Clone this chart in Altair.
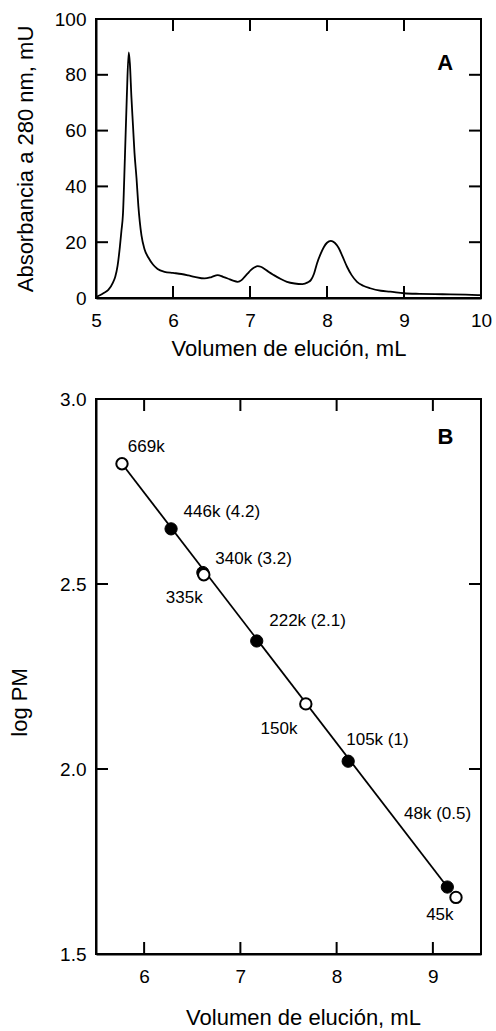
import altair as alt
import pandas as pd

# ---------------- Panel A: chromatogram ----------------
elution_ml = [5.00, 5.05, 5.10, 5.16, 5.22, 5.25, 5.28, 5.31, 5.33, 5.35, 5.375, 5.40,
              5.425, 5.44, 5.46, 5.48, 5.50, 5.526, 5.55, 5.59, 5.63, 5.68, 5.74, 5.80,
              5.89, 6.00, 6.11, 6.20, 6.28, 6.41, 6.50, 6.58, 6.65, 6.71, 6.78, 6.84,
              6.89, 6.93, 6.97, 7.01, 7.06, 7.10, 7.14, 7.18, 7.24, 7.31, 7.40, 7.48,
              7.58, 7.68, 7.75, 7.79, 7.83, 7.87, 7.92, 7.96, 8.00, 8.05, 8.10, 8.15,
              8.20, 8.26, 8.32, 8.39, 8.47, 8.56, 8.70, 8.82, 9.00, 9.20, 9.40, 9.60,
              9.80, 10.0]
absorbance_mu = [0.3, 1.0, 1.8, 2.9, 5.5, 7.6, 11.5, 18.3, 24, 30, 50, 72,
                 88, 84, 72, 62, 52, 43, 33, 22.5, 17.5, 14.5, 12, 10.4,
                 9.4, 9.0, 8.6, 8.1, 7.6, 7.0, 7.5, 8.2, 7.6, 7.0, 6.2, 5.8,
                 6.4, 7.6, 8.8, 10.0, 11.0, 11.4, 11.2, 10.6, 9.4, 8.2, 6.8, 5.8,
                 5.2, 5.0, 5.6, 6.4, 8.6, 12.4, 16, 18.3, 19.8, 20.5, 19.8, 18.0,
                 15, 11.2, 8.2, 5.8, 4.4, 3.5, 2.6, 2.3, 1.7, 1.5, 1.4, 1.3,
                 1.2, 1.0]
a_xdom = [5, 10]
a_ydom = [0, 100]
a_xticks = [5, 6, 7, 8, 9, 10]
a_yticks = [0, 20, 40, 60, 80, 100]
a_inner_x = [6, 7, 8, 9]
a_inner_y = [20, 40, 60, 80]
a_letter = ["A"]
a_letter_x = [9.535]
a_letter_y = [84.2]

# ---------------- Panel B: calibration ----------------
filled_labels = ["446k (4.2)", "340k (3.2)", "222k (2.1)", "105k (1)", "48k (0.5)"]
filled_ml = [6.28, 6.61, 7.17, 8.12, 9.15]
filled_logpm = [2.649, 2.531, 2.346, 2.021, 1.681]
open_labels = ["669k", "335k", "150k", "45k"]
open_ml = [5.77, 6.62, 7.68, 9.24]
open_logpm = [2.825, 2.525, 2.176, 1.653]
fit_ml = [5.77, 9.15]
fit_logpm = [2.825, 1.681]
label_text = ["669k", "446k (4.2)", "340k (3.2)", "335k", "222k (2.1)",
              "150k", "105k (1)", "48k (0.5)", "45k"]
label_x = [5.83, 6.41, 6.74, 6.225, 7.30, 7.21, 8.10, 8.70, 8.93]
label_y = [2.870, 2.695, 2.568, 2.462, 2.400, 2.108, 2.078, 1.878, 1.605]
b_xdom = [5.5, 9.5]
b_ydom = [1.5, 3.0]
b_xticks = [6, 7, 8, 9]
b_yticks = [1.5, 2.0, 2.5, 3.0]
b_inner_x = [6, 7, 8, 9]
b_inner_y = [2.0, 2.5]
b_letter = ["B"]
b_letter_x = [9.13]
b_letter_y = [2.897]

FONT = "Liberation Sans"
TICK = 11      # inward tick length, px
LBL = 19
TTL = 22
FRAME = 2


def frame_and_ticks(xdom, ydom, W, H, inner_x, inner_y, xs, ys):
    """Closed frame plus inward ticks on all four sides, drawn as line segments."""
    lx = TICK * (xdom[1] - xdom[0]) / W
    ly = TICK * (ydom[1] - ydom[0]) / H
    rows = []
    # frame polyline
    corners = [(xdom[0], ydom[0]), (xdom[1], ydom[0]), (xdom[1], ydom[1]),
               (xdom[0], ydom[1]), (xdom[0], ydom[0])]
    for k, (cx, cy) in enumerate(corners):
        rows.append({"seg": "frame", "o": k, "x": cx, "y": cy})
    # x ticks (top and bottom)
    for v in inner_x:
        rows += [{"seg": f"t{v}", "o": 0, "x": v, "y": ydom[1]},
                 {"seg": f"t{v}", "o": 1, "x": v, "y": ydom[1] - ly},
                 {"seg": f"b{v}", "o": 0, "x": v, "y": ydom[0]},
                 {"seg": f"b{v}", "o": 1, "x": v, "y": ydom[0] + ly}]
    # y ticks (left and right)
    for v in inner_y:
        rows += [{"seg": f"l{v}", "o": 0, "x": xdom[0], "y": v},
                 {"seg": f"l{v}", "o": 1, "x": xdom[0] + lx, "y": v},
                 {"seg": f"r{v}", "o": 0, "x": xdom[1], "y": v},
                 {"seg": f"r{v}", "o": 1, "x": xdom[1] - lx, "y": v}]
    df = pd.DataFrame(rows)
    return alt.Chart(df).mark_line(color="black", strokeWidth=FRAME, strokeJoin="miter",
                                   strokeCap="square").encode(
        x=alt.X("x:Q", scale=xs, axis=None),
        y=alt.Y("y:Q", scale=ys, axis=None),
        detail="seg:N",
        order="o:Q")


# ---------- Panel A ----------
WA, HA = 385, 279
xA = alt.Scale(domain=a_xdom, nice=False, zero=False)
yA = alt.Scale(domain=a_ydom, nice=False)

dfA = pd.DataFrame({"v": elution_ml, "a": absorbance_mu})
curve = alt.Chart(dfA).mark_line(color="black", strokeWidth=1.8, interpolate="monotone").encode(
    x=alt.X("v:Q", scale=xA, axis=alt.Axis(orient="bottom", values=a_xticks, format="d",
                                          title="Volumen de elución, mL",
                                          domain=True, domainColor="black", domainWidth=FRAME,
                                          ticks=False, labelPadding=13, titlePadding=8,
                                          labelFlush=False)),
    y=alt.Y("a:Q", scale=yA, axis=alt.Axis(orient="left", values=a_yticks, format="d",
                                          title="Absorbancia a 280 nm, mU",
                                          domain=True, domainColor="black", domainWidth=FRAME,
                                          ticks=False, labelPadding=10, labelFlush=False,
                                          titleX=-71, titleBaseline="middle")),
)
letterA = alt.Chart(pd.DataFrame({"t": a_letter, "v": a_letter_x, "a": a_letter_y})).mark_text(
    font=FONT, fontSize=22, fontWeight="bold", color="black", baseline="middle", align="center"
).encode(x=alt.X("v:Q", scale=xA, axis=None), y=alt.Y("a:Q", scale=yA, axis=None), text="t:N")

panelA = alt.layer(curve, frame_and_ticks(a_xdom, a_ydom, WA, HA, a_inner_x, a_inner_y, xA, yA),
                   letterA).resolve_axis(x="independent", y="independent").properties(
    width=WA, height=HA)

# ---------- Panel B ----------
WB, HB = 385, 555
xB = alt.Scale(domain=b_xdom, nice=False, zero=False)
yB = alt.Scale(domain=b_ydom, nice=False, zero=False)

dfFit = pd.DataFrame({"v": fit_ml, "m": fit_logpm})
fit = alt.Chart(dfFit).mark_line(color="black", strokeWidth=1.8).encode(
    x=alt.X("v:Q", scale=xB, axis=alt.Axis(orient="bottom", values=b_xticks, format="d",
                                          title="Volumen de elución, mL",
                                          domain=True, domainColor="black", domainWidth=FRAME,
                                          ticks=False, labelPadding=13, titlePadding=21,
                                          labelFlush=False, titleX=207)),
    y=alt.Y("m:Q", scale=yB, axis=alt.Axis(orient="left", values=b_yticks, format=".1f",
                                          title="log PM",
                                          domain=True, domainColor="black", domainWidth=FRAME,
                                          ticks=False, labelPadding=10, labelFlush=False,
                                          titleX=-77, titleY=303, titleBaseline="middle")),
)
filled_pts = alt.Chart(pd.DataFrame({"v": filled_ml, "m": filled_logpm, "t": filled_labels})).mark_point(
    shape="circle", filled=True, fill="black", stroke="black", strokeWidth=1, size=150, opacity=1
).encode(x=alt.X("v:Q", scale=xB, axis=None), y=alt.Y("m:Q", scale=yB, axis=None))
open_pts = alt.Chart(pd.DataFrame({"v": open_ml, "m": open_logpm, "t": open_labels})).mark_point(
    shape="circle", filled=True, fill="white", stroke="black", strokeWidth=2, size=130, opacity=1
).encode(x=alt.X("v:Q", scale=xB, axis=None), y=alt.Y("m:Q", scale=yB, axis=None))
labels = alt.Chart(pd.DataFrame({"v": label_x, "m": label_y, "t": label_text})).mark_text(
    font=FONT, fontSize=17, color="black", align="left", baseline="middle"
).encode(x=alt.X("v:Q", scale=xB, axis=None), y=alt.Y("m:Q", scale=yB, axis=None), text="t:N")
letterB = alt.Chart(pd.DataFrame({"t": b_letter, "v": b_letter_x, "m": b_letter_y})).mark_text(
    font=FONT, fontSize=22, fontWeight="bold", color="black", baseline="middle", align="center"
).encode(x=alt.X("v:Q", scale=xB, axis=None), y=alt.Y("m:Q", scale=yB, axis=None), text="t:N")

panelB = alt.layer(fit, frame_and_ticks(b_xdom, b_ydom, WB, HB, b_inner_x, b_inner_y, xB, yB),
                   filled_pts, open_pts, labels, letterB).resolve_axis(
    x="independent", y="independent").properties(width=WB, height=HB)

chart = alt.vconcat(panelA, panelB, spacing=29).properties(
    padding={"left": 7, "top": 9, "right": 0, "bottom": 0},
    background="white",
).configure_view(
    stroke="transparent"
).configure_axis(
    grid=False,
    labelFont=FONT, labelFontSize=LBL, labelColor="black",
    titleFont=FONT, titleFontSize=TTL, titleFontWeight="normal", titleColor="black",
).configure_text(font=FONT)

chart.save("out.html", embed_options={"renderer": "svg", "actions": False})
